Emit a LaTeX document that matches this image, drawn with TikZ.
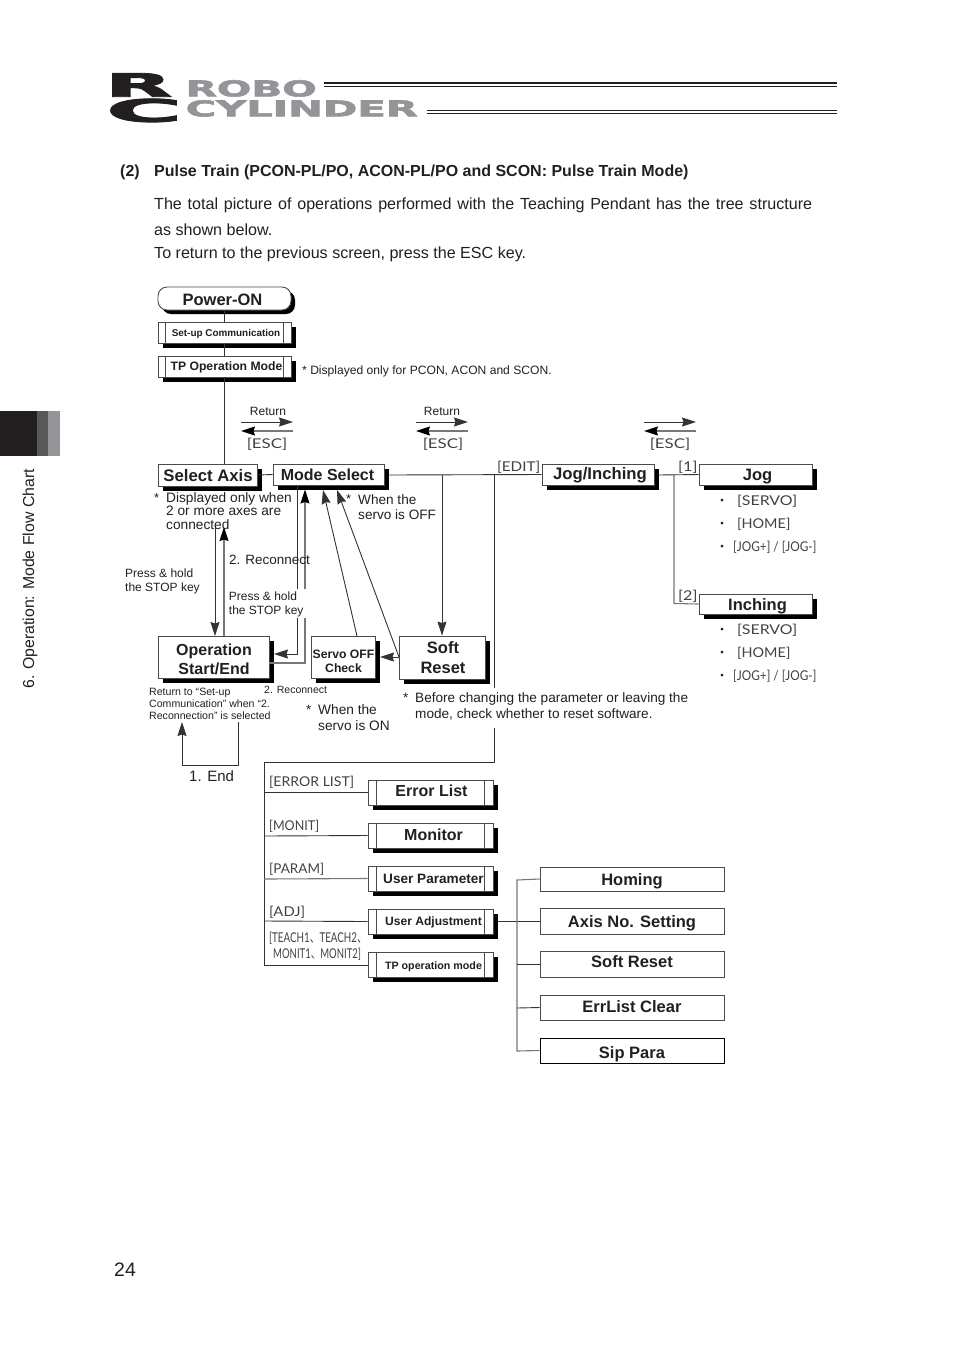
\documentclass[tikz,border=0pt]{standalone}
\usepackage{fontspec}
\setmainfont{Liberation Sans}
\newfontfamily\logofont[FakeBold=2.5]{DejaVu Sans Bold}
\newfontfamily\keyfont{Lato}
\newfontfamily\cjk{Noto Sans CJK JP}
\usetikzlibrary{shadows,arrows.meta}
\definecolor{bline}{HTML}{4A4A4A}
\definecolor{logogray}{HTML}{939598}
\definecolor{tabmid}{HTML}{58585A}
\definecolor{ink}{HTML}{231F20}
\definecolor{conn}{HTML}{333333}
\definecolor{connlight}{HTML}{777777}
\newcommand{\fs}[1]{\fontsize{#1}{#1}\selectfont}
\newcommand{\lsk}[2]{\fontsize{#1}{#2}\selectfont}
\newcommand{\off}[3]{\raisebox{-#2pt}[\height][\depth]{\hspace*{#1pt}\hspace*{#1pt}#3}}
\newcommand{\twol}[2]{\begin{tabular}{@{}c@{}}#1\\#2\end{tabular}}
\tikzset{
  sbox/.style={draw=bline,line width=.9pt,fill=white,inner sep=0pt,align=center,text=ink,
    general shadow={shadow xshift=4.5pt,shadow yshift=-4.5pt,fill=black}},
  pbox/.style={draw=bline,line width=.9pt,fill=white,inner sep=0pt,align=center,text=ink},
  txt/.style={inner sep=0pt,anchor=west,align=left,text=ink},
  ctr/.style={inner sep=0pt,anchor=center,align=center,text=ink},
  key/.style={inner sep=0pt,anchor=west,text=ink!85,font=\keyfont\fs{13.5}},
  conline/.style={draw=conn,line width=.9pt},
  grayline/.style={draw=connlight,line width=1.1pt},
  arr/.style={-{Stealth[length=14pt,width=9pt,inset=1.5pt]},draw=conn,line width=.9pt},
  garr/.style={-{Stealth[length=14pt,width=9pt,inset=1.5pt,color=black]},draw=connlight,line width=1.1pt},
  barline/.style={draw=bline,line width=.8pt},
  dot/.style={inner sep=0pt,font=\cjk\fs{13},text=ink}
}
\newcommand{\bx}[7]{\node[#6,minimum width={(#4-#2)*1pt},minimum height={(#5-#3)*1pt}] (#1) at ({(#2+#4)/2},{(#3+#5)/2}) {#7};}
\newcommand{\bars}[2]{\draw[barline] ([xshift=#2pt]#1.north west) -- ([xshift=#2pt]#1.south west) ([xshift=-#2pt]#1.north east) -- ([xshift=-#2pt]#1.south east);}
\begin{document}
\begin{tikzpicture}[x=1pt,y=-1pt]
\useasboundingbox (0,0) rectangle (954,1350);
% logo
\node[inner sep=0pt,anchor=north west,text=ink] (logoR) at (105,73) {\resizebox*{67pt}{23.5pt}{\logofont R}};
\node[inner sep=0pt,anchor=north west,text=ink] (logoC) at (106,98.5) {\resizebox*{76pt}{23.5pt}{\logofont C}};
\node[inner sep=0pt,anchor=north west,text=logogray] (logoA) at (185.5,80) {\resizebox*{131pt}{16.5pt}{\logofont ROBO}};
\node[inner sep=0pt,anchor=north west,text=logogray] (logoB) at (185.5,100) {\resizebox*{232pt}{16.5pt}{\logofont CYLINDER}};
\fill[ink] (324,81.8) rectangle (837,84.2);
\fill[ink] (324,86.4) rectangle (837,87.4);
\fill[ink] (427,109.6) rectangle (837,110.6);
\fill[ink] (427,112.6) rectangle (837,113.6);
% side tab
\fill[ink] (0,411) rectangle (37,456);
\fill[tabmid] (37,411) rectangle (48,456);
\fill[logogray] (48,411) rectangle (60,456);
\node[inner sep=0pt,rotate=90,anchor=west,text=ink,font=\fs{15.85}] (side) at (30,689) {6. Operation: Mode Flow Chart};
\node[txt,font=\fs{19.5}] (pageno) at (114,1270) {24};
% heading
\node[txt,font=\bfseries\fs{16}] (h1) at (120,172) {(2)};
\node[txt,font=\bfseries\fs{16}] (h2) at (154,172) {Pulse Train (PCON-PL/PO, ACON-PL/PO and SCON: Pulse Train Mode)};
\node[txt,font=\fs{16.1}] (p1) at (154,205) {\makebox[658pt][s]{The total picture of operations performed with the Teaching Pendant has the tree structure}};
\node[txt,font=\fs{16.1}] (p2) at (154,230) {as shown below.};
\node[txt,font=\fs{16.1}] (p3) at (154,254.5) {To return to the previous screen, press the ESC key.};

% boxes
\node[draw=bline,line width=.9pt,fill=white,rounded corners=9pt,inner sep=0pt,text=ink,
  general shadow={shadow xshift=4pt,shadow yshift=-4pt,fill=black},minimum width=133pt,minimum height=23pt] (pwr) at (224.5,298.5) {\off{-2}{1}{\bfseries\fs{16.5}Power-ON}};
\bx{setup}{158}{322}{291}{343}{sbox}{\off{1.5}{1.5}{\bfseries\fs{9.9}Set-up Communication}}
\bars{setup}{8}
\bx{tpm}{158}{356}{291}{377}{sbox}{\off{2}{1}{\bfseries\fs{12.2}TP Operation Mode}}
\bars{tpm}{8}
\bx{sel}{158}{464}{257}{486}{sbox}{\off{.5}{1}{\bfseries\fs{16.7}Select Axis}}
\bx{mode}{273}{464}{384}{485}{sbox}{\off{-1}{.7}{\bfseries\fs{16}Mode Select}}
\bx{jogi}{542}{464}{654}{485}{sbox}{\off{2}{.5}{\bfseries\fs{16.7}Jog/Inching}}
\bx{jog}{699}{464}{812}{485}{sbox}{\off{2}{2}{\bfseries\fs{16.5}Jog}}
\bx{inch}{699}{594}{812}{614}{sbox}{\off{2}{2}{\bfseries\fs{16.5}Inching}}
\bx{op}{158}{636}{269}{678}{sbox}{\off{0.5}{4}{\bfseries\lsk{16}{19}\twol{Operation}{Start/End}}}
\bx{servo}{311}{636}{375}{678}{sbox}{\off{.5}{5.5}{\bfseries\lsk{12.2}{14.5}\twol{Servo OFF}{Check}}}
\bx{soft}{399}{636}{485}{679}{sbox}{\off{1}{1.5}{\bfseries\lsk{16.5}{20}\twol{Soft}{Reset}}}
\bx{err}{368}{780}{493}{805}{sbox}{\off{1}{-1.5}{\bfseries\fs{16}Error List}}
\bx{mon}{368}{823}{493}{848}{sbox}{\off{3}{-.5}{\bfseries\fs{16}Monitor}}
\bx{upar}{368}{866}{493}{891}{sbox}{\off{3}{.5}{\bfseries\fs{13.6}User Parameter}}
\bx{uadj}{368}{909}{493}{934}{sbox}{\off{3}{1}{\bfseries\fs{12.1}User Adjustment}}
\bx{tpop}{368}{952}{493}{977}{sbox}{\off{3}{2}{\bfseries\fs{10.7}TP operation mode}}
\bars{err}{9}\bars{mon}{9}\bars{upar}{9}\bars{uadj}{9}\bars{tpop}{9}
\bx{hom}{540}{867}{724}{891}{pbox}{\off{0}{2}{\bfseries\fs{16.5}Homing}}
\bx{axn}{540}{908}{724}{934}{pbox}{\off{0}{2}{\bfseries\fs{16.5}Axis No. Setting}}
\bx{srs}{540}{951}{724}{977}{pbox}{\off{0}{-2}{\bfseries\fs{16.5}Soft Reset}}
\bx{erc}{540}{995}{724}{1020}{pbox}{\off{0}{-1}{\bfseries\fs{16.5}ErrList Clear}}
\bx{sip}{540}{1038}{724}{1063}{pbox,draw=black}{\off{0}{4}{\bfseries\fs{16.5}Sip Para}}

% top connectors
\draw[conline] (pwr.south -| setup.north) -- (setup.north);
\draw[conline] (setup.south) -- (tpm.north);
\draw[conline] (tpm.south) -- (tpm.south |- sel.north);
\draw[conline] (sel.east) -- (mode.west);
\coordinate (mr) at (388.5,475);
\coordinate (softj) at (442,475);
\coordinate (listj) at (494,475);
\draw[conline] (mr) -- (jogi.west);
\draw[arr] (softj) -- (soft.north);
\draw[conline] (listj) -- (494,688);
% jog tree
\coordinate (jr) at (658.5,475);
\coordinate (jbranch) at (674,475);
\draw[conline] (jr) -- (jog.west);
\draw[grayline] (jbranch) -- (674,603.5) -- (inch.west);
% operation flow
\coordinate (stopa) at (215,527);
\coordinate (recon) at (224,527);
\draw[arr] (stopa) -- (215,636);
\draw[garr] (224,636) -- (recon);
\coordinate (mA) at (297,486);
\coordinate (mB) at (305,489.5);
\coordinate (mC) at (323,490);
\coordinate (mD) at (337,490);
\coordinate (opin) at (274,654);
\draw[arr] (mA) -- (297,654) -- (opin);
\draw[garr] (op.east |- 0,663) -- (305,663) -- (mB);
\draw[arr] (357,636) -- (mC);
\draw[arr] (399,657) -- (mD);
\draw[arr] (399,657) -- (380,657);
% end loop
\coordinate (endA) at (238,722);
\coordinate (endB) at (182,722);
\draw[arr] (endA) -- (238,765) -- (182,765) -- (endB);
% list bus
\coordinate (la) at (494,728);
\coordinate (lb) at (264,762);
\draw[conline] (la) -- (la |- lb) -- (lb) -- (264,965) -- (tpop.west |- 0,965);
\draw[conline] (264,792) -- (err.west |- 0,792);
\draw[conline] (264,836) -- (mon.west);
\draw[grayline] (264,879) -- (upar.west);
\draw[conline] (264,921) -- (uadj.west);
% adjustment bus
\coordinate (ar) at (497.5,921.5);
\coordinate (ab) at (517,880);
\draw[conline] (ar) -- (axn.west |- ar);
\draw[grayline] (hom.west) -- (ab) -- (517,1051) -- (sip.west);
\draw[conline] (517,964) -- (srs.west);
\draw[conline] (517,1008) -- (erc.west);
% return arrows
\coordinate (r1a) at (241,422);\coordinate (r1b) at (293,422);\coordinate (r1c) at (241,431);\coordinate (r1d) at (293,431);
\coordinate (r2a) at (416,422);\coordinate (r2b) at (468,422);\coordinate (r2c) at (416,431);\coordinate (r2d) at (468,431);
\coordinate (r3a) at (644,422);\coordinate (r3b) at (696,422);\coordinate (r3c) at (644,431);\coordinate (r3d) at (696,431);
\draw[arr] (r1a) -- (r1b); \draw[garr] (r1d) -- (r1c);
\draw[arr] (r2a) -- (r2b); \draw[garr] (r2d) -- (r2c);
\draw[arr] (r3a) -- (r3b); \draw[garr] (r3d) -- (r3c);
\node[ctr,font=\fs{12}] (ret1) at (268,411) {Return};
\node[ctr,font=\fs{12}] (ret2) at (442,411) {Return};
\node[key,anchor=center] (esc1) at (267,444) {\scalebox{1.25}[1]{[ESC]}};
\node[key,anchor=center] (esc2) at (443,444) {\scalebox{1.25}[1]{[ESC]}};
\node[key,anchor=center] (esc3) at (670,444) {\scalebox{1.25}[1]{[ESC]}};
\node[key] (edit) at (497,467) {\scalebox{1.13}[1]{[EDIT]}};
\node[key] (k1) at (678,467) {\scalebox{1.2}[1]{[1]}};
\node[key] (k2) at (678,596) {\scalebox{1.2}[1]{[2]}};
% jog items
\foreach \n/\yy in {a/501,b/630}{\node[key] (sv\n) at (737,\yy) {\scalebox{1.18}[1]{[SERVO]}};\node[dot] (dA\n) at (722,\yy+1) {・};}
\foreach \n/\yy in {a/524,b/653}{\node[key] (hm\n) at (737,\yy) {\scalebox{1.07}[1]{[HOME]}};\node[dot] (dB\n) at (722,\yy+1) {・};}
\foreach \n/\yy in {a/547,b/676}{\node[key] (jg\n) at (733,\yy) {\scalebox{.875}[1]{[JOG+] / [JOG-]}};\node[dot] (dC\n) at (722,\yy+1) {・};}
% list labels
\node[key] (lk1) at (269,782) {\scalebox{1.04}[1]{[ERROR LIST]}};
\node[key] (lk2) at (269,826) {\scalebox{.93}[1]{[MONIT]}};
\node[key] (lk3) at (269,869) {[PARAM]};
\node[key] (lk4) at (269,912) {\scalebox{1.1}[1]{[ADJ]}};
\node[key] (lk5) at (269,938) {\scalebox{.725}[1]{[TEACH1{\cjk、}TEACH2{\cjk、}}};
\node[key] (lk6) at (273,954) {\scalebox{.707}[1]{MONIT1{\cjk、}MONIT2]}};
% notes
\node[txt,font=\fs{12.1}] (n0) at (302,371) {* Displayed only for PCON, ACON and SCON.};
\node[txt,font=\fs{13}] (s1) at (154,498) {*};
\node[txt,font=\lsk{13.7}{13.5},anchor=north west] (n1) at (166,492) {Displayed only when\\2 or more axes are\\connected};
\node[txt,font=\fs{13}] (s2) at (346,499) {*};
\node[txt,font=\lsk{13.6}{15},anchor=north west] (n2) at (358,494) {When the\\servo is OFF};
\node[txt,font=\lsk{12}{14},anchor=north west] (n3) at (125,568.5) {Press \& hold\\the STOP key};
\node[txt,font=\fs{13.5}] (n4) at (229,560) {2. Reconnect};
\node[txt,font=\lsk{12}{14},anchor=north west,fill=white,minimum height=29pt,minimum width=80pt] (n5) at (226,589) {\raisebox{-1pt}[\height][\depth]{\begin{tabular}{@{}l@{}}Press \& hold\\the STOP key\end{tabular}}};
\node[txt,font=\lsk{10.6}{12},anchor=north west] (n6) at (149,687.5) {Return to “Set-up\\Communication” when “2.\\Reconnection” is selected};
\node[txt,font=\fs{10.5}] (n7) at (264,690) {2. Reconnect};
\node[txt,font=\fs{13.5}] (s3) at (306,710) {*};
\node[txt,font=\lsk{13.7}{16},anchor=north west] (n8) at (318,704) {When the\\servo is ON};
\node[txt,font=\fs{13.5}] (s4) at (403,698) {*};
\node[txt,font=\lsk{13.6}{16},anchor=north west] (n9) at (415,692) {Before changing the parameter or leaving the\\mode, check whether to reset software.};
\node[txt,font=\fs{15}] (n10) at (189,776.5) {1. End};
\end{tikzpicture}
\end{document}
